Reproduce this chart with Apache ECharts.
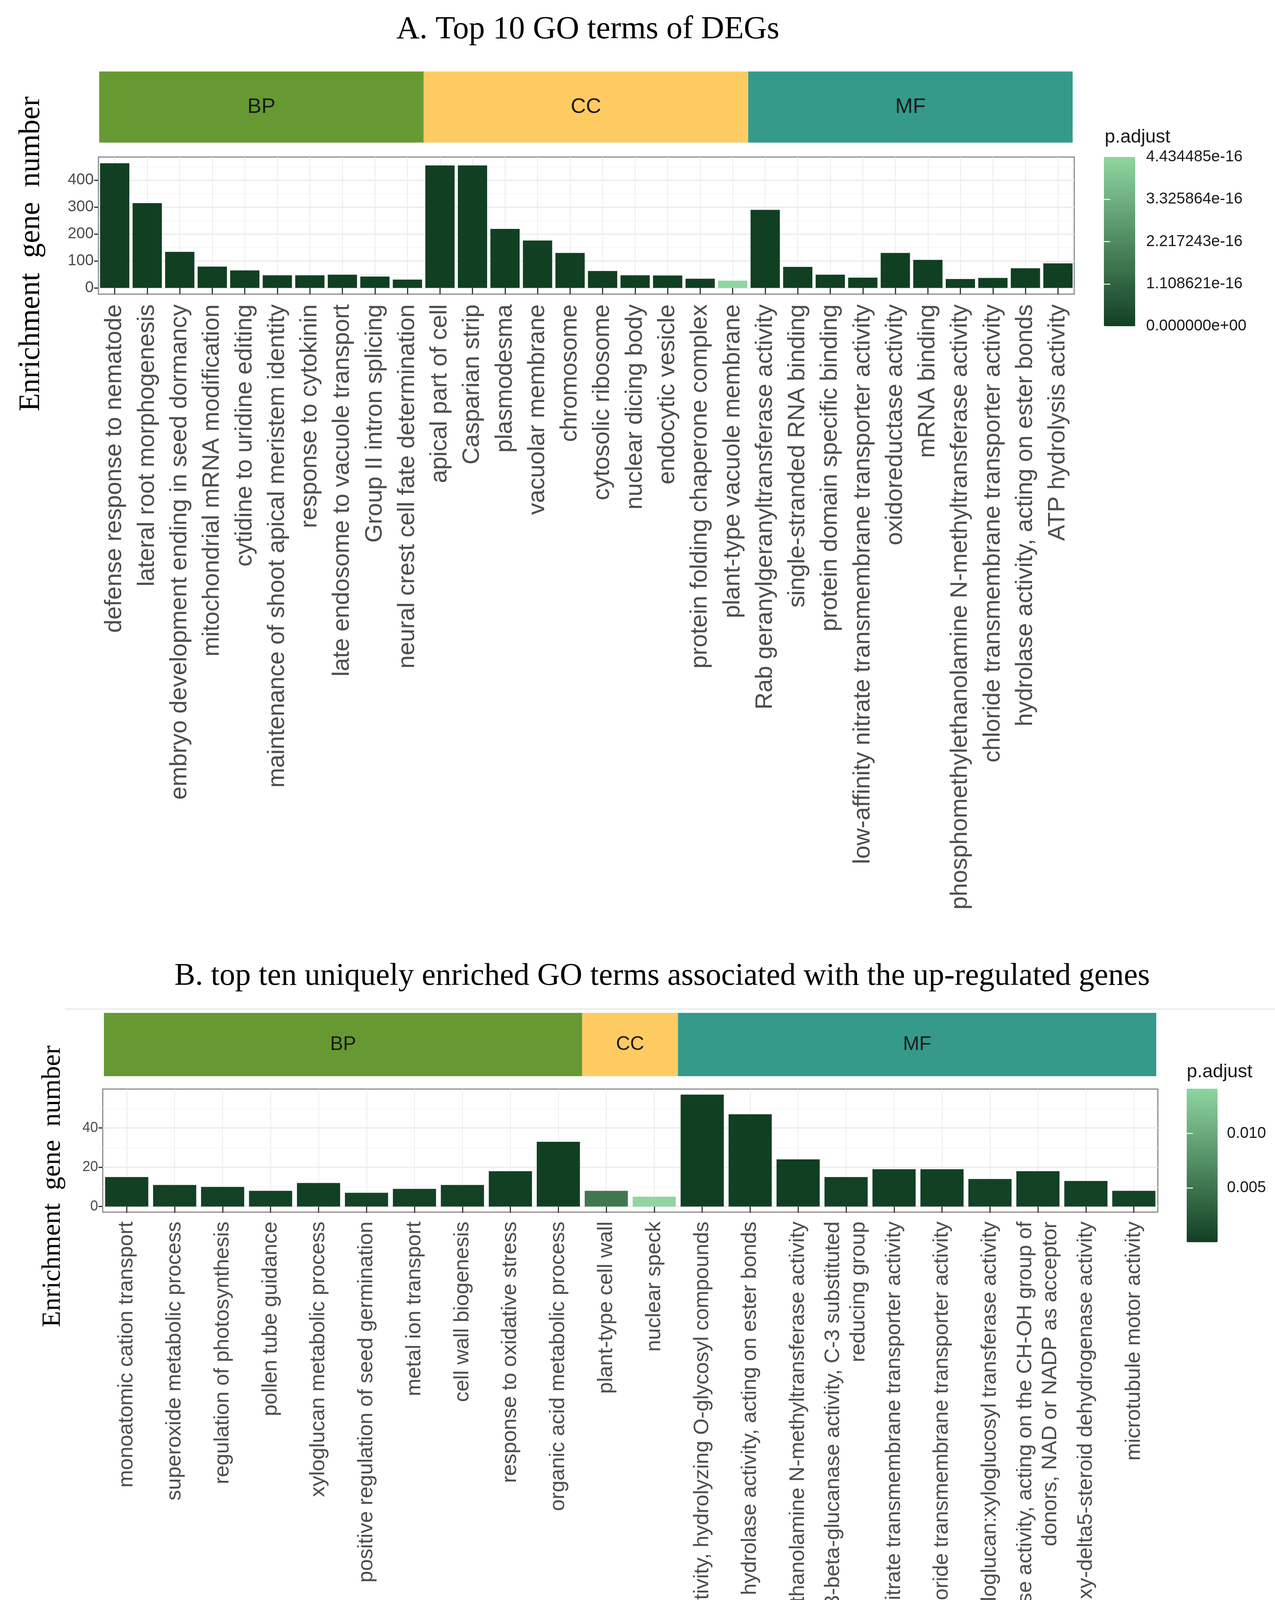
<!DOCTYPE html>
<html>
<head>
<meta charset="utf-8">
<script src="https://cdn.jsdelivr.net/npm/echarts@6/dist/echarts.min.js"></script>
<style>
html,body{margin:0;padding:0;background:#fff;}
#chart{width:3264px;height:4556px;}
</style>
</head>
<body>
<div id="chart"></div>
<script>
// ---------------- DATA ----------------
const titleA = 'A. Top 10 GO terms of DEGs';
const titleB = 'B. top ten uniquely enriched GO terms associated with the up-regulated genes';
const yTitle = 'Enrichment  gene  number';
const legendTitle = 'p.adjust';

const catsA = [
  'defense response to nematode','lateral root morphogenesis','embryo development ending in seed dormancy',
  'mitochondrial mRNA modification','cytidine to uridine editing','maintenance of shoot apical meristem identity',
  'response to cytokinin','late endosome to vacuole transport','Group II intron splicing','neural crest cell fate determination',
  'apical part of cell','Casparian strip','plasmodesma','vacuolar membrane','chromosome','cytosolic ribosome',
  'nuclear dicing body','endocytic vesicle','protein folding chaperone complex','plant-type vacuole membrane',
  'Rab geranylgeranyltransferase activity','single-stranded RNA binding','protein domain specific binding',
  'low-affinity nitrate transmembrane transporter activity','oxidoreductase activity','mRNA binding',
  'phosphomethylethanolamine N-methyltransferase activity','chloride transmembrane transporter activity',
  'hydrolase activity, acting on ester bonds','ATP hydrolysis activity'
];
const countsA = [463,315,134,79,65,47,47,49,42,31, 455,455,219,176,130,63,47,46,34,27, 290,78,49,38,130,104,33,37,73,91];
const padjA = [0,0,0,0,0,0,0,0,0,0, 0,0,0,0,0,0,0,0,0,4.434485e-16, 0,0,0,0,0,0,0,0,0,0];
const groupNamesA = ['BP','CC','MF'];
const groupSizesA = [10,10,10];
const yTicksA = [0,100,200,300,400];
const yMinorA = [50,150,250,350,450];
const legendTicksA = [0,1.108621e-16,2.217243e-16,3.325864e-16,4.434485e-16];
const legendInnerTicksA = [1.108621e-16,2.217243e-16,3.325864e-16];

const catsB = [
  'monoatomic cation transport','superoxide metabolic process','regulation of photosynthesis','pollen tube guidance',
  'xyloglucan metabolic process','positive regulation of seed germination','metal ion transport','cell wall biogenesis',
  'response to oxidative stress','organic acid metabolic process',
  'plant-type cell wall','nuclear speck',
  'hydrolase activity, hydrolyzing O-glycosyl compounds','hydrolase activity, acting on ester bonds',
  'phosphomethylethanolamine N-methyltransferase activity',
  'glucan endo-1,3-beta-glucanase activity, C-3 substituted\nreducing group',
  'low-affinity nitrate transmembrane transporter activity','chloride transmembrane transporter activity',
  'xyloglucan:xyloglucosyl transferase activity',
  'oxidoreductase activity, acting on the CH-OH group of\ndonors, NAD or NADP as acceptor',
  '3-beta-hydroxy-delta5-steroid dehydrogenase activity','microtubule motor activity'
];
const countsB = [15,11,10,8,12,7,9,11,18,33, 8,5, 57,47,24,15,19,19,14,18,13,8];
const padjB = [0.00012,0.00021,0.00018,0.00034,0.00015,0.00041,0.00027,0.00022,0.00009,0.00004,
               0.0053,0.0141,
               0.000039,0.00005,0.00008,0.00024,0.00016,0.00017,0.00031,0.00019,0.00028,0.00038];
const groupNamesB = ['BP','CC','MF'];
const groupSizesB = [10,2,10];
const yTicksB = [0,20,40];
const yMinorB = [10,30,50];
const legendTicksB = [0.005,0.010];

// ---------------- STYLE ----------------
const stripColors = {BP:'#679933', CC:'#FECB63', MF:'#359A8A'};
const lowColor = '#113f22', highColor = '#8fd6a0';
const SANS = 'Liberation Sans', SERIF = 'Liberation Serif';

const chart = echarts.init(document.getElementById('chart'), null, {renderer:'canvas'});

const grids = [], xAxes = [], yAxes = [], series = [], visualMaps = [];

function expFmt(v){
  return v.toExponential(6).replace(/e([+-])(\d)$/, 'e$10$2');
}

function addPanel(cfg){
  // strip grid
  const gS = grids.length;
  grids.push({left:cfg.strip.left, top:cfg.strip.top, width:cfg.strip.width, height:cfg.strip.height, containLabel:false});
  const xs = xAxes.length, ys = yAxes.length;
  const total = cfg.sizes.reduce((a,b)=>a+b,0);
  xAxes.push({type:'value', gridIndex:gS, min:0, max:total, show:false});
  yAxes.push({type:'category', gridIndex:gS, data:['s'], show:false});
  cfg.groups.forEach((g,i)=>{
    series.push({type:'bar', name:g, xAxisIndex:xs, yAxisIndex:ys, stack:'strip'+gS, barWidth:'100%',
      data:[cfg.sizes[i]], itemStyle:{color:stripColors[g]}, silent:true,
      label:{show:true, position:'inside', formatter:'{a}', fontFamily:SANS, fontSize:cfg.stripFont, color:'#1a1a1a'}});
  });

  // plot grid
  const gP = grids.length;
  grids.push({left:cfg.plot.left, top:cfg.plot.top, width:cfg.plot.width, height:cfg.plot.height,
    show:true, borderColor:'#8a8a8a', borderWidth:3, backgroundColor:'#ffffff'});
  const xp = xAxes.length, yp = yAxes.length;
  const maxV = Math.max(...cfg.counts), pad = maxV*0.05;
  xAxes.push({type:'category', gridIndex:gP, data:cfg.cats, boundaryGap:true,
    axisLine:{show:false},
    axisTick:{show:true, alignWithLabel:true, length:16, lineStyle:{color:'#333', width:3}},
    axisLabel:{interval:0, rotate:90, fontFamily:SANS, fontSize:cfg.xFont, color:'#4d4d4d', margin:cfg.xMargin, lineHeight:cfg.xFont*1.2},
    splitLine:{show:true, alignWithLabel:true, lineStyle:{color:'#ececec', width:2}}});
  yAxes.push({type:'value', gridIndex:gP, min:-pad, max:maxV+pad,
    axisLine:{show:false},
    axisTick:{show:true, customValues:cfg.yTicks, length:11, lineStyle:{color:'#333', width:3}},
    axisLabel:{customValues:cfg.yTicks, fontFamily:SANS, fontSize:cfg.yFont, color:'#4d4d4d', margin:12},
    splitLine:{show:true, lineStyle:{color:'#ebebeb', width:3}}});
  yAxes.push({type:'value', gridIndex:gP, min:-pad, max:maxV+pad, position:'right',
    axisLine:{show:false}, axisTick:{show:false, customValues:cfg.yMinor}, axisLabel:{show:false, customValues:cfg.yMinor},
    splitLine:{show:true, lineStyle:{color:'#f3f3f3', width:1.5}}});
  const barIdx = series.length;
  series.push({type:'bar', xAxisIndex:xp, yAxisIndex:yp, barCategoryGap:'10%',
    encode:{x:0, y:1},
    data:cfg.cats.map((c,i)=>[c, cfg.counts[i], cfg.padj[i]]), z:3});

  // legend
  const pMin = Math.min(...cfg.padj), pMax = Math.max(...cfg.padj);
  visualMaps.push({type:'continuous', seriesIndex:barIdx, dimension:2, min:pMin, max:pMax,
    inRange:{color:[lowColor, highColor]}, orient:'vertical', left:cfg.leg.left, top:cfg.leg.top,
    itemWidth:cfg.leg.width, itemHeight:cfg.leg.height, calculable:false, hoverLink:false,
    padding:0, text:null, showLabel:false, z:2});
  const gL = grids.length;
  grids.push({left:cfg.leg.left, top:cfg.leg.top, width:cfg.leg.width, height:cfg.leg.height});
  const xl = xAxes.length, yl = yAxes.length;
  xAxes.push({type:'value', gridIndex:gL, min:0, max:1, show:false});
  yAxes.push({type:'value', gridIndex:gL, min:pMin, max:pMax, position:'right', z:10,
    axisLine:{show:false},
    axisTick:{show:true, inside:true, customValues:cfg.legInner, length:16, lineStyle:{color:'#ffffff', width:3, opacity:0.8}},
    axisLabel:{customValues:cfg.legTicks, formatter:cfg.legFmt, fontFamily:SANS, fontSize:40, color:'#1a1a1a', margin:cfg.legMargin},
    splitLine:{show:false}});
  yAxes.push({type:'value', gridIndex:gL, min:pMin, max:pMax, position:'left', z:10,
    axisLine:{show:false},
    axisTick:{show:true, inside:true, customValues:cfg.legInner, length:16, lineStyle:{color:'#ffffff', width:3, opacity:0.8}},
    axisLabel:{show:false, customValues:cfg.legInner}, splitLine:{show:false}});
  series.push({type:'line', xAxisIndex:xl, yAxisIndex:yl, data:[], silent:true});
}

addPanel({
  cats:catsA, counts:countsA, padj:padjA, groups:groupNamesA, sizes:groupSizesA,
  yTicks:yTicksA, yMinor:yMinorA, legTicks:legendTicksA, legInner:legendInnerTicksA, legFmt:expFmt, legMargin:28,
  strip:{left:254, top:183, width:2492, height:182}, stripFont:54,
  plot:{left:252, top:402, width:2498, height:351},
  leg:{left:2826, top:402, width:80, height:433},
  xFont:61, xMargin:26, yFont:40
});
addPanel({
  cats:catsB, counts:countsB, padj:padjB, groups:groupNamesB, sizes:groupSizesB,
  yTicks:yTicksB, yMinor:yMinorB, legTicks:legendTicksB, legInner:legendTicksB, legFmt:v=>v.toFixed(3), legMargin:24,
  strip:{left:266, top:2593, width:2694, height:162}, stripFont:50,
  plot:{left:263, top:2788, width:2701, height:315},
  leg:{left:3038, top:2787, width:79, height:393},
  xFont:54, xMargin:24, yFont:36
});

const option = {
  backgroundColor:'#ffffff',
  animation:false,
  title:[
    {text:titleA, left:1500, top:30, textAlign:'center', textStyle:{fontFamily:SERIF, fontSize:82, fontWeight:'normal', color:'#000'}},
    {text:titleB, left:1690, top:2455, textAlign:'center', textStyle:{fontFamily:SERIF, fontSize:80, fontWeight:'normal', color:'#000'}}
  ],
  grid:grids, xAxis:xAxes, yAxis:yAxes, series:series, visualMap:visualMaps,
  graphic:[
    {type:'text', x:80, y:650, rotation:Math.PI/2, style:{text:yTitle, fontFamily:SERIF, fontSize:76, fill:'#000', textAlign:'center', textVerticalAlign:'middle'}},
    {type:'text', x:135, y:3037, rotation:Math.PI/2, style:{text:yTitle, fontFamily:SERIF, fontSize:68, fill:'#000', textAlign:'center', textVerticalAlign:'middle'}},
    {type:'text', x:2828, y:352, style:{text:legendTitle, fontFamily:SANS, fontSize:48, fill:'#1a1a1a', textAlign:'left', textVerticalAlign:'middle'}},
    {type:'text', x:3038, y:2745, style:{text:legendTitle, fontFamily:SANS, fontSize:48, fill:'#1a1a1a', textAlign:'left', textVerticalAlign:'middle'}},
    {type:'line', shape:{x1:167, y1:2583, x2:3264, y2:2583}, style:{stroke:'#e8e8e8', lineWidth:3}}
  ]
};
chart.setOption(option);
</script>
</body>
</html>
